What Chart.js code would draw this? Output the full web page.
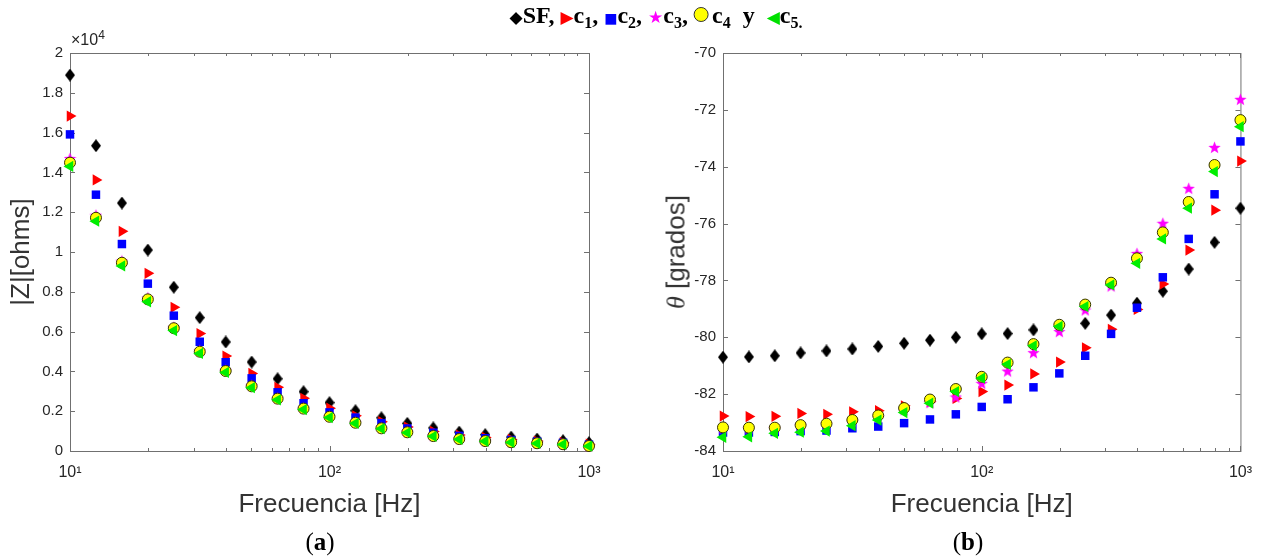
<!DOCTYPE html>
<html>
<head>
<meta charset="utf-8">
<script src="https://cdn.jsdelivr.net/npm/chart.js@4.4.0/dist/chart.umd.min.js"></script>
<style>
html,body{margin:0;padding:0;background:#fff;}
#wrap{position:relative;width:1264px;height:559px;overflow:hidden;background:#fff;}
#ca{position:absolute;left:0;top:0;}
#cb{position:absolute;left:632px;top:0;}
.ov{position:absolute;white-space:nowrap;}
#legend{left:656px;top:0px;transform:translateX(-50%);font-family:"Liberation Serif","Times New Roman",serif;font-weight:bold;font-size:24px;color:#000;line-height:30px;}
#legend sub{font-size:16px;vertical-align:-5px;line-height:0;}
.sym{font-family:"DejaVu Sans",sans-serif;font-weight:normal;}
.circ{display:inline-block;width:13px;height:13px;border-radius:50%;background:#ffff00;border:1px solid #333;vertical-align:1px;margin-right:3px;}
.sub{font-family:"Liberation Serif","Times New Roman",serif;font-size:25px;color:#000;transform:translateX(-50%);}
#ytb{left:676px;top:252px;transform:translate(-50%,-50%) rotate(-90deg);font-family:"Liberation Sans",Arial,sans-serif;font-size:26px;color:#333;line-height:1;}
#ytb i{font-family:"Liberation Serif","Times New Roman",serif;}
#x4{left:71px;top:31px;font-family:"Liberation Sans",Arial,sans-serif;font-size:16px;color:#262626;}
#x4 sup{font-size:12px;vertical-align:6px;line-height:0;}
</style>
</head>
<body>
<div id="wrap">
  <canvas id="ca" width="632" height="559"></canvas>
  <canvas id="cb" width="632" height="559"></canvas>
  <div id="legend" class="ov"><span class="sym" style="color:#000;font-size:17px;">◆</span>SF, <span class="sym" style="color:#ff0000;font-size:17px;">▶</span>c<sub>1</sub>, <span class="sym" style="color:#0000ff;font-size:14px;">■</span>c<sub>2</sub>, <span class="sym" style="color:#ff00ff;font-size:17px;">★</span>c<sub>3</sub>, <span class="circ"></span>c<sub>4</sub>&nbsp; y&nbsp; <span class="sym" style="color:#00e000;font-size:17px;">◀</span>c<sub>5.</sub></div>
  <div id="ytb" class="ov"><i>θ</i> [grados]</div>
  <div id="x4" class="ov">×10<sup>4</sup></div>
  <div class="ov sub" style="left:320px;top:528px;">(<b>a</b>)</div>
  <div class="ov sub" style="left:968px;top:528px;">(<b>b</b>)</div>
</div>
<script>
// ---- data ----
const freqs = [10, 12.59, 15.85, 19.95, 25.12, 31.62, 39.81, 50.12, 63.10, 79.43, 100, 125.9, 158.5, 199.5, 251.2, 316.2, 398.1, 501.2, 631.0, 794.3, 1000];

// |Z| in ohms
const zSF = [18890, 15340, 12460, 10100, 8230, 6700, 5480, 4470, 3630, 2980, 2430, 2025, 1670, 1390, 1160, 950, 820, 700, 600, 520, 420];
const zC1 = [16830, 13620, 11040, 8930, 7220, 5900, 4770, 3900, 3200, 2650, 2150, 1770, 1470, 1200, 980, 800, 680, 580, 500, 430, 340];
const zC2 = [15910, 12880, 10400, 8410, 6800, 5490, 4460, 3650, 2950, 2400, 1940, 1680, 1400, 1130, 920, 760, 640, 550, 470, 410, 320];
const zC3 = [14700, 11850, 9550, 7700, 6220, 5050, 4060, 3300, 2660, 2160, 1750, 1450, 1160, 960, 770, 620, 515, 450, 400, 350, 260];
const zC4 = [14490, 11720, 9460, 7620, 6170, 4990, 4020, 3250, 2630, 2130, 1720, 1420, 1140, 940, 750, 600, 500, 440, 390, 340, 250];
const zC5 = [14300, 11550, 9300, 7500, 6050, 4900, 3950, 3180, 2570, 2080, 1680, 1390, 1120, 920, 740, 590, 490, 430, 380, 330, 240];

// phase in degrees
const pSF = [-80.70, -80.69, -80.65, -80.55, -80.48, -80.41, -80.32, -80.21, -80.10, -80.00, -79.88, -79.87, -79.74, -79.65, -79.51, -79.22, -78.80, -78.38, -77.60, -76.66, -75.46];
const pC1 = [-82.77, -82.79, -82.78, -82.68, -82.71, -82.62, -82.58, -82.41, -82.27, -82.15, -81.91, -81.68, -81.29, -80.87, -80.37, -79.72, -79.02, -78.13, -76.93, -75.53, -73.80];
const pC2 = [-83.35, -83.35, -83.33, -83.30, -83.28, -83.20, -83.14, -83.02, -82.89, -82.71, -82.45, -82.18, -81.76, -81.27, -80.65, -79.88, -78.96, -77.89, -76.54, -74.97, -73.11];
const pC3 = [-83.20, -83.20, -83.20, -83.10, -83.05, -82.95, -82.80, -82.55, -82.30, -82.10, -81.62, -81.19, -80.54, -79.80, -79.04, -78.20, -77.05, -75.99, -74.76, -73.32, -71.63];
const pC4 = [-83.17, -83.18, -83.18, -83.09, -83.04, -82.91, -82.75, -82.49, -82.19, -81.82, -81.39, -80.89, -80.24, -79.56, -78.85, -78.08, -77.22, -76.31, -75.24, -73.94, -72.36];
const pC5 = [-83.52, -83.50, -83.38, -83.34, -83.30, -83.11, -82.91, -82.65, -82.32, -81.91, -81.44, -80.95, -80.30, -79.62, -78.92, -78.16, -77.40, -76.54, -75.46, -74.17, -72.59];

// ticks
const xTickValues = [10, 100, 1000];
const xTickLabels = ['10\u00B9', '10\u00B2', '10\u00B3'];
const xMinorTicks = [20, 30, 40, 50, 60, 70, 80, 90, 200, 300, 400, 500, 600, 700, 800, 900];
const seriesNames = ['SF', 'c1', 'c2', 'c3', 'c4', 'c5'];

// ---- marker images ----
function makeDiamond(w, h, color) {
  const c = document.createElement('canvas'); c.width = w; c.height = h;
  const g = c.getContext('2d'); g.fillStyle = color; g.beginPath();
  g.moveTo(w / 2, 0); g.lineTo(w, h / 2); g.lineTo(w / 2, h); g.lineTo(0, h / 2); g.closePath(); g.fill();
  return c;
}
function makeStar(s, color) {
  const c = document.createElement('canvas'); c.width = s; c.height = s;
  const g = c.getContext('2d'); g.fillStyle = color; g.beginPath();
  const cx = s / 2, cy = s / 2 + 0.5, R = s / 2, r = R * 0.42;
  for (let i = 0; i < 10; i++) {
    const rad = -Math.PI / 2 + i * Math.PI / 5; const rr = i % 2 ? r : R;
    const px = cx + rr * Math.cos(rad), py = cy + rr * Math.sin(rad);
    i ? g.lineTo(px, py) : g.moveTo(px, py);
  }
  g.closePath(); g.fill(); return c;
}
const diamondImg = makeDiamond(10, 13, '#000000');
const starImg = makeStar(13, '#ff00ff');

const styles = [
  {pointStyle: diamondImg, pointRadius: 6, backgroundColor: '#000', borderColor: '#000', borderWidth: 0},
  {pointStyle: 'triangle', pointRotation: 90, pointRadius: 6.5, backgroundColor: '#ff0000', borderColor: '#ff0000', borderWidth: 0},
  {pointStyle: 'rect', pointRadius: 6, backgroundColor: '#0000ff', borderColor: '#0000ff', borderWidth: 0},
  {pointStyle: starImg, pointRadius: 6, backgroundColor: '#ff00ff', borderColor: '#ff00ff', borderWidth: 0},
  {pointStyle: 'circle', pointRadius: 5.5, backgroundColor: '#ffff00', borderColor: '#333300', borderWidth: 1},
  {pointStyle: 'triangle', pointRotation: 270, pointRadius: 6.5, backgroundColor: '#00ee00', borderColor: '#00ee00', borderWidth: 0}
];

function makeDatasets(arrs) {
  return arrs.map((arr, k) => Object.assign({
    label: seriesNames[k],
    data: freqs.map((f, i) => ({x: f, y: arr[i]})),
    showLine: false,
    clip: false,
    order: 6 - k,
    pointHoverRadius: styles[k].pointRadius
  }, styles[k]));
}

const boxPlugin = {
  id: 'boxTicks',
  beforeDatasetsDraw(chart) {
    const {ctx, chartArea: a} = chart;
    const x = chart.scales.x, y = chart.scales.y;
    ctx.save();
    ctx.strokeStyle = '#707070';
    ctx.lineWidth = 1;
    ctx.strokeRect(a.left + 0.5, a.top + 0.5, a.right - a.left, a.bottom - a.top);
    ctx.beginPath();
    y.ticks.forEach(t => {
      const py = Math.round(y.getPixelForValue(t.value)) + 0.5;
      ctx.moveTo(a.left, py); ctx.lineTo(a.left + 5, py);
      ctx.moveTo(a.right, py); ctx.lineTo(a.right - 5, py);
    });
    xTickValues.forEach(v => {
      const px = Math.round(x.getPixelForValue(v)) + 0.5;
      ctx.moveTo(px, a.bottom); ctx.lineTo(px, a.bottom - 5);
      ctx.moveTo(px, a.top); ctx.lineTo(px, a.top + 5);
    });
    xMinorTicks.forEach(v => {
      const px = Math.round(x.getPixelForValue(v)) + 0.5;
      ctx.moveTo(px, a.bottom); ctx.lineTo(px, a.bottom - 3);
      ctx.moveTo(px, a.top); ctx.lineTo(px, a.top + 3);
    });
    ctx.stroke();
    ctx.restore();
  }
};

Chart.defaults.font.family = "'Liberation Sans', Arial, sans-serif";
Chart.defaults.color = '#262626';

function makeChart(id, datasets, yCfg, yAxisWidth, padRight, yTitle) {
  return new Chart(document.getElementById(id), {
    type: 'scatter',
    data: {datasets},
    plugins: [boxPlugin],
    options: {
      responsive: false,
      animation: false,
      events: [],
      layout: {padding: {left: 0, top: 53, right: padRight, bottom: 0}},
      plugins: {legend: {display: false}, tooltip: {enabled: false}},
      scales: {
        x: {
          type: 'logarithmic',
          min: 10, max: 1000,
          afterBuildTicks: s => { s.ticks = xTickValues.map(v => ({value: v, major: true})); },
          afterFit: s => { s.height = 108; },
          grid: {display: false, drawTicks: false},
          border: {display: false},
          ticks: {
            autoSkip: false, maxRotation: 0, padding: 12,
            font: {size: 16}, color: '#262626',
            callback: (v, i) => xTickLabels[i]
          },
          title: {display: true, text: 'Frecuencia [Hz]', font: {size: 26}, color: '#333333', padding: {top: 0, bottom: 39}}
        },
        y: Object.assign({
          type: 'linear',
          afterFit: s => { s.width = yAxisWidth; },
          grid: {display: false, drawTicks: false},
          border: {display: false},
          title: yTitle ? {display: true, text: yTitle, font: {size: 26}, color: '#333333', padding: {top: 6, bottom: 0}} : {display: false}
        }, yCfg)
      }
    }
  });
}

makeChart('ca', makeDatasets([zSF, zC1, zC2, zC3, zC4, zC5]), {
  min: 0, max: 20000,
  ticks: {stepSize: 2000, padding: 7, font: {size: 15}, color: '#262626',
    callback: v => String(+(v / 1e4).toFixed(1))}
}, 70, 43, '|Z|[ohms]');

makeChart('cb', makeDatasets([pSF, pC1, pC2, pC3, pC4, pC5]), {
  min: -84, max: -70,
  ticks: {stepSize: 2, padding: 7, font: {size: 15}, color: '#262626',
    callback: v => String(v)}
}, 91, 23, null);
</script>
</body>
</html>
